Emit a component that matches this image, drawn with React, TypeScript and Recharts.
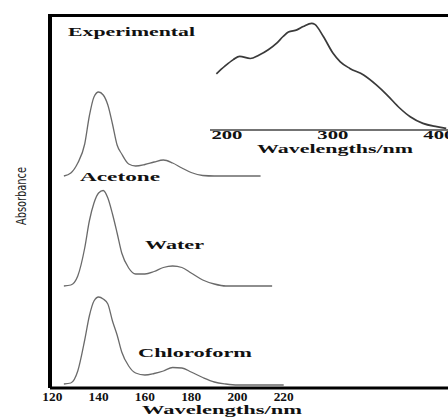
import React from 'react';
import { LineChart, Line, XAxis, YAxis } from 'recharts';

// Solvent spectra (absorbance above each trace's own baseline), shared wavelength grid (nm)
const wavelengths = [122, 125, 128, 131, 134, 136, 138, 140, 142, 144, 146, 148, 150, 153, 156, 160, 164, 168, 172, 176, 180, 185, 190, 195, 200, 205, 210, 215, 220];
const acetone = [null, 0, 0.03, 0.13, 0.32, 0.6, 0.79, 0.84, 0.81, 0.71, 0.52, 0.31, 0.22, 0.12, 0.1, 0.115, 0.14, 0.16, 0.13, 0.08, 0.035, 0.005, 0, 0, 0, 0, 0, null, null];
const water = [null, 0, 0.01, 0.1, 0.38, 0.65, 0.83, 0.93, 0.955, 0.88, 0.72, 0.53, 0.33, 0.18, 0.12, 0.12, 0.145, 0.185, 0.2, 0.185, 0.13, 0.06, 0.02, 0, 0, 0, 0, 0, null];
const chloroform = [null, 0.01, 0.02, 0.14, 0.45, 0.69, 0.84, 0.88, 0.86, 0.81, 0.64, 0.5, 0.33, 0.19, 0.12, 0.1, 0.115, 0.14, 0.175, 0.17, 0.13, 0.075, 0.03, 0.01, 0, 0, 0, 0, 0];
// vertical stacking offsets of the traces
const offsets = { acetone: 2.12, water: 1.02, chloroform: 0.03 };
const bottomTicks = [120, 140, 160, 180, 200, 220];

// Experimental spectrum (inset)
const expNm = [190, 198, 206, 212, 222, 230, 239, 247, 253, 258, 266, 272, 280, 283, 291, 300, 307, 316, 329, 341, 351, 363, 373, 385, 398, 407];
const expAbs = [0.51, 0.58, 0.64, 0.67, 0.65, 0.68, 0.73, 0.79, 0.85, 0.89, 0.91, 0.94, 0.97, 0.96, 0.85, 0.7, 0.62, 0.56, 0.5, 0.41, 0.32, 0.2, 0.12, 0.06, 0.03, 0.015];
const insetTicks = [200, 300, 400];

const rows = wavelengths.map((nm, i) => ({
  nm,
  acetone: acetone[i] == null ? null : (acetone[i] as number) + offsets.acetone,
  water: water[i] == null ? null : (water[i] as number) + offsets.water,
  chloroform: chloroform[i] == null ? null : (chloroform[i] as number) + offsets.chloroform,
}));
const expRows = expNm.map((nm, i) => ({ nm, abs: expAbs[i] }));

const SERIF = '"Liberation Serif", "Times New Roman", serif';

const BottomTick = (p: any) => (
  <text x={p.x} y={p.y + 11} textAnchor="middle" fontFamily={SERIF} fontWeight="bold" fontSize={12}
    fill="#111" textLength={20} lengthAdjust="spacingAndGlyphs">{p.payload.value}</text>
);
const InsetTick = (p: any) => (
  <text x={p.x} y={p.y + 7} textAnchor="middle" fontFamily={SERIF} fontWeight="bold" fontSize={12}
    fill="#111" textLength={31} lengthAdjust="spacingAndGlyphs">{p.payload.value}</text>
);

const T = (props: any) => (
  <text fontFamily={SERIF} fontWeight="bold" fill="#111" lengthAdjust="spacingAndGlyphs" {...props} />
);

export default function App() {
  return (
    <div style={{ position: 'absolute', left: 0, top: 0, width: 448, height: 417, overflow: 'hidden', background: '#fff' }}>
      <div style={{ position: 'absolute', left: 0, top: 0 }}>
        <LineChart width={448} height={417} data={rows} margin={{ top: 16, right: 0, bottom: 0, left: 0 }}>
          <XAxis dataKey="nm" type="number" domain={[119, 291]} ticks={bottomTicks} interval={0}
            tick={<BottomTick />} tickLine={false} tickSize={0} height={29} allowDataOverflow
            axisLine={{ stroke: '#000', strokeWidth: 3 }} />
          <YAxis type="number" domain={[0, 3.72]} width={50} tick={false} tickLine={false}
            axisLine={{ stroke: '#000', strokeWidth: 4 }} />
          <Line dataKey="acetone" type="monotone" stroke="#6a6a6a" strokeWidth={1.3} dot={false} isAnimationActive={false} />
          <Line dataKey="water" type="monotone" stroke="#6a6a6a" strokeWidth={1.3} dot={false} isAnimationActive={false} />
          <Line dataKey="chloroform" type="monotone" stroke="#6a6a6a" strokeWidth={1.3} dot={false} isAnimationActive={false} />
        </LineChart>
      </div>
      <div style={{ position: 'absolute', left: 210, top: 0 }}>
        <LineChart width={250} height={160} data={expRows} margin={{ top: 20, right: 0, bottom: 0, left: 0 }}>
          <XAxis dataKey="nm" type="number" domain={[184, 420]} ticks={insetTicks} interval={0}
            tick={<InsetTick />} tickLine={false} tickSize={0} height={30}
            axisLine={{ stroke: '#444', strokeWidth: 1.5 }} />
          <YAxis hide type="number" domain={[0, 1]} />
          <Line dataKey="abs" type="monotone" stroke="#3a3a3a" strokeWidth={1.7} dot={false} isAnimationActive={false} />
        </LineChart>
      </div>
      <svg width={448} height={417} style={{ position: 'absolute', left: 0, top: 0, pointerEvents: 'none' }}>
        <rect x={48} y={14} width={400} height={3} fill="#000" />
        <T x={68} y={36} fontSize={13} textLength={127}>Experimental</T>
        <T x={80} y={181} fontSize={13} textLength={80}>Acetone</T>
        <T x={145} y={249} fontSize={13} textLength={59}>Water</T>
        <T x={138} y={357} fontSize={13} textLength={114}>Chloroform</T>
        <T x={257} y={153} fontSize={12} textLength={156}>Wavelengths/nm</T>
        <T x={142} y={414} fontSize={12} textLength={160}>Wavelengths/nm</T>
        <text x={26} y={196} textAnchor="middle" transform="rotate(-90, 26, 196)"
          fontFamily='"Liberation Sans Narrow", "DejaVu Sans Condensed", sans-serif' fontSize={14}
          fill="#222" textLength={58} lengthAdjust="spacingAndGlyphs">Absorbance</text>
      </svg>
    </div>
  );
}
